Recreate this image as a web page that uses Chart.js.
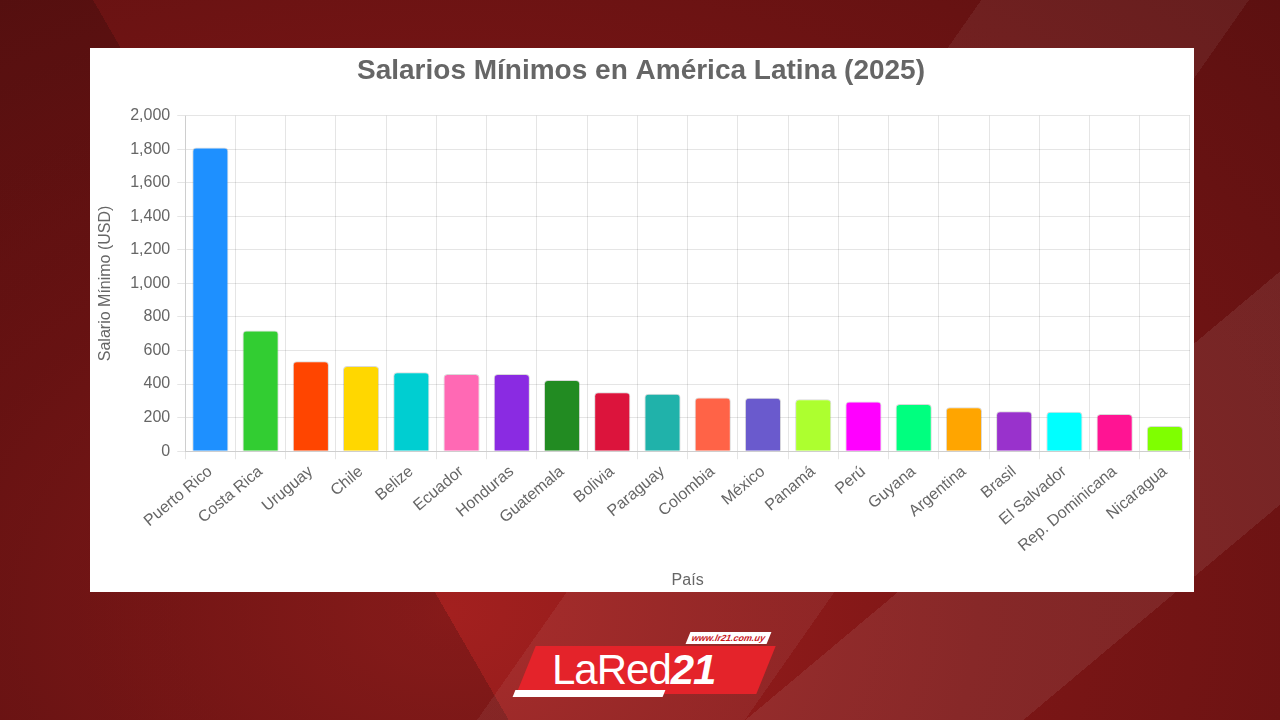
<!DOCTYPE html>
<html lang="es">
<head>
<meta charset="utf-8">
<title>Salarios Mínimos en América Latina (2025)</title>
<script src="https://cdn.jsdelivr.net/npm/chart.js@4.4.1/dist/chart.umd.min.js"></script>
<style>
  html, body {
    margin: 0;
    padding: 0;
    width: 1280px;
    height: 720px;
    overflow: hidden;
    font-family: "Liberation Sans", Arial, sans-serif;
  }
  body {
    position: relative;
    background:
      linear-gradient(125deg, rgba(255,255,255,0) 0 55%, rgba(255,255,255,0.06) 55% 70%, rgba(255,255,255,0) 70%),
      linear-gradient(60deg, rgba(0,0,0,0.18) 0 30%, rgba(0,0,0,0) 30% 100%),
      linear-gradient(140deg, rgba(0,0,0,0) 0 75%, rgba(255,255,255,0.08) 75% 88%, rgba(0,0,0,0) 88%),
      radial-gradient(ellipse at 35% 85%, #a3201f 0%, #7d1616 45%, #5c1010 100%);
  }
  #card {
    position: absolute;
    left: 90px;
    top: 48px;
    width: 1104px;
    height: 544px;
    background: #fff;
  }
  #card canvas {
    display: block;
  }
  #logo {
    position: absolute;
    left: 508px;
    top: 632px;
    width: 270px;
    height: 70px;
  }
  #logo .band {
    position: absolute;
    left: 18px;
    top: 14px;
    width: 240px;
    height: 48px;
    background: #e4232a;
    transform: skewX(-22deg);
  }
  #logo .under {
    position: absolute;
    left: 6px;
    top: 58px;
    width: 150px;
    height: 7px;
    background: #fff;
    transform: skewX(-22deg);
  }
  #logo .word {
    position: absolute;
    left: 44px;
    top: 14px;
    color: #fff;
    font-size: 42px;
    letter-spacing: -1px;
    line-height: 48px;
  }
  #logo .word b {
    font-style: italic;
  }
  #logo .url {
    position: absolute;
    left: 180px;
    top: 0px;
    background: #fff;
    color: #c8161d;
    font-size: 9px;
    font-weight: bold;
    padding: 1px 4px;
    transform: skewX(-22deg);
  }
</style>
</head>
<body>
<div id="card">
  <canvas id="salaryChart" width="1104" height="544"></canvas>
</div>
<div id="logo">
  <div class="band"></div>
  <div class="under"></div>
  <div class="word">LaRed<b>21</b></div>
  <div class="url">www.lr21.com.uy</div>
</div>

<script>
// Countries, sorted by minimum wage
const countries = [
  "Puerto Rico", "Costa Rica", "Uruguay", "Chile", "Belize",
  "Ecuador", "Honduras", "Guatemala", "Bolivia", "Paraguay",
  "Colombia", "México", "Panamá", "Perú", "Guyana",
  "Argentina", "Brasil", "El Salvador", "Rep. Dominicana", "Nicaragua",
];

// Minimum wage in USD
const wages = [
  1810, 720, 536, 508, 470,
  460, 460, 424, 352, 342,
  320, 318, 310, 296, 282,
  262, 238, 235, 222, 150,
];

// One colour per bar
const barColors = [
  "#1E90FF", "#32CD32", "#FF4500", "#FFD700", "#00CED1",
  "#FF69B4", "#8A2BE2", "#228B22", "#DC143C", "#20B2AA",
  "#FF6347", "#6A5ACD", "#ADFF2F", "#FF00FF", "#00FF7F",
  "#FFA500", "#9932CC", "#00FFFF", "#FF1493", "#7FFF00",
];

const chartTitle = "Salarios Mínimos en América Latina (2025)";
const yTitle = "Salario Mínimo (USD)";
const xTitle = "País";

Chart.defaults.font.family = '"Liberation Sans", Arial, Helvetica, sans-serif';
Chart.defaults.color = "#666";

const ctx = document.getElementById("salaryChart").getContext("2d");

new Chart(ctx, {
  type: "bar",
  data: {
    labels: countries,
    datasets: [
      {
        label: yTitle,
        data: wages,
        backgroundColor: barColors,
        borderColor: "rgba(0, 0, 0, 0.15)",
        borderWidth: 1,
        borderRadius: 4,
        borderSkipped: "bottom",
      },
    ],
  },
  options: {
    responsive: false,
    animation: false,
    layout: {
      padding: { left: 2, right: 4, top: 0, bottom: 0 },
    },
    plugins: {
      legend: { display: false },
      tooltip: { enabled: false },
      title: {
        display: true,
        text: chartTitle,
        color: "#666",
        font: { size: 28, weight: "bold" },
        padding: { top: 6, bottom: 28 },
      },
    },
    scales: {
      x: {
        grid: { color: "rgba(0, 0, 0, 0.1)" },
        ticks: {
          font: { size: 16 },
          color: "#666",
          minRotation: 40,
          maxRotation: 40,
        },
        title: {
          display: true,
          text: xTitle,
          font: { size: 16 },
          color: "#666",
          padding: { top: 12, bottom: 2 },
        },
      },
      y: {
        beginAtZero: true,
        min: 0,
        max: 2000,
        grid: { color: "rgba(0, 0, 0, 0.1)" },
        ticks: {
          stepSize: 200,
          padding: 7,
          font: { size: 16 },
          color: "#666",
        },
        title: {
          display: true,
          text: yTitle,
          font: { size: 16 },
          color: "#666",
          padding: { top: 4, bottom: 8 },
        },
      },
    },
  },
});
</script>
</body>
</html>
